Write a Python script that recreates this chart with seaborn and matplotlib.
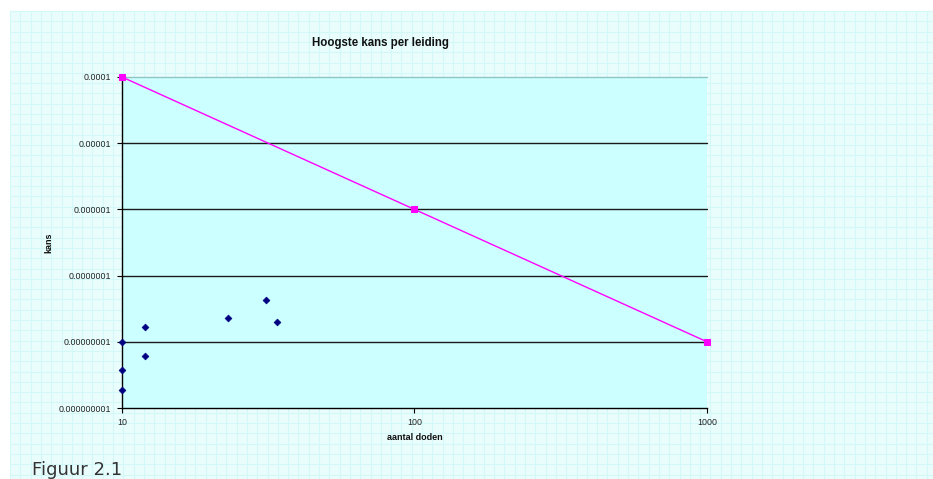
import numpy as np
import pandas as pd
import matplotlib
matplotlib.use("Agg")
import matplotlib.pyplot as plt
from matplotlib.ticker import FixedLocator, FixedFormatter, NullLocator
import seaborn as sns

# Observed incidents: number of deaths vs. highest probability per pipeline
doden = [10, 10, 10, 12, 12, 23, 31, 34]
kans = [1.0e-8, 3.8e-9, 1.9e-9, 1.7e-8, 6.1e-9, 2.3e-8, 4.3e-8, 2.0e-8]

# Group-risk norm line
norm_doden = [10, 100, 1000]
norm_kans = [1e-4, 1e-6, 1e-8]

y_ticks = [1e-4, 1e-5, 1e-6, 1e-7, 1e-8, 1e-9]
y_labels = ["0.0001", "0.00001", "0.000001", "0.0000001", "0.00000001", "0.000000001"]
x_ticks = [10, 100, 1000]
x_labels = ["10", "100", "1000"]

sns.set_theme(style="white")
plt.rcParams["font.family"] = ["Liberation Sans", "DejaVu Sans"]

W, H = 933, 479
fig = plt.figure(figsize=(W / 100, H / 100), dpi=100)
fig.patch.set_facecolor("white")

# graph-paper backdrop
bg = fig.add_axes([0, 0, 1, 1], zorder=0)
bg.set_xlim(0, W)
bg.set_ylim(H, 0)
bg.axis("off")
bg.add_patch(plt.Rectangle((10, 11), W - 10, H - 11, facecolor="#EAFDFD", edgecolor="none"))
for gx in np.arange(10, W, 10.3):
    bg.plot([gx, gx], [11, H], color="#D2F8F8", lw=0.8)
for gy in np.arange(11, H, 10.3):
    bg.plot([10, W], [gy, gy], color="#D2F8F8", lw=0.8)

left, right, top, bottom = 122, 707, 77, 408
ax = fig.add_axes([left / W, 1 - bottom / H, (right - left) / W, (bottom - top) / H], zorder=1)
ax.set_facecolor("#CCFFFF")
ax.set_xscale("log")
ax.set_yscale("log")
ax.set_xlim(10, 1000)
ax.set_ylim(1e-9, 1e-4)

ax.yaxis.set_major_locator(FixedLocator(y_ticks))
ax.yaxis.set_major_formatter(FixedFormatter(y_labels))
ax.xaxis.set_major_locator(FixedLocator(x_ticks))
ax.xaxis.set_major_formatter(FixedFormatter(x_labels))
ax.yaxis.set_minor_locator(NullLocator())
ax.xaxis.set_minor_locator(NullLocator())

ax.grid(False)
for yv in y_ticks[1:-1]:
    ax.axhline(yv, color="#1a1a1a", lw=1.0, zorder=1)
ax.axhline(y_ticks[0], color="#8FC4C4", lw=1.0, zorder=1)

for s in ["top", "right"]:
    ax.spines[s].set_visible(False)
for s in ["left", "bottom"]:
    ax.spines[s].set_color("black")
    ax.spines[s].set_linewidth(1.0)

ax.tick_params(axis="both", which="major", direction="out", length=3.5, width=0.8,
               color="black", labelsize=6.4, labelcolor="#222222", pad=4,
               left=True, bottom=True)

sns.lineplot(x=norm_doden, y=norm_kans, ax=ax, color="#FF00FF", lw=1.0,
             marker="s", markersize=5, markeredgecolor="#FF00FF", zorder=3)
sns.scatterplot(x=doden, y=kans, ax=ax, color="#000080", marker="D", s=12,
                edgecolor="#000080", linewidth=0.5, zorder=4, clip_on=False)
for line in ax.lines:
    line.set_clip_on(False)

ax.set_xlabel("aantal doden", fontsize=6.5, fontweight="bold", labelpad=4, color="#111111")
ax.set_ylabel("kans", fontsize=6.5, fontweight="bold", color="#111111")
ax.yaxis.set_label_coords((53 - left) / (right - left), 0.5)

fig.text(380 / W, 1 - 43 / H, "Hoogste kans per leiding", ha="center", va="center",
         fontsize=8.3, fontweight="bold", color="#111111")
fig.text(32 / W, 1 - 475 / H, "Figuur 2.1", ha="left", va="baseline",
         fontsize=13, family="DejaVu Sans", color="#333333")

fig.savefig("out.png", dpi=100)
